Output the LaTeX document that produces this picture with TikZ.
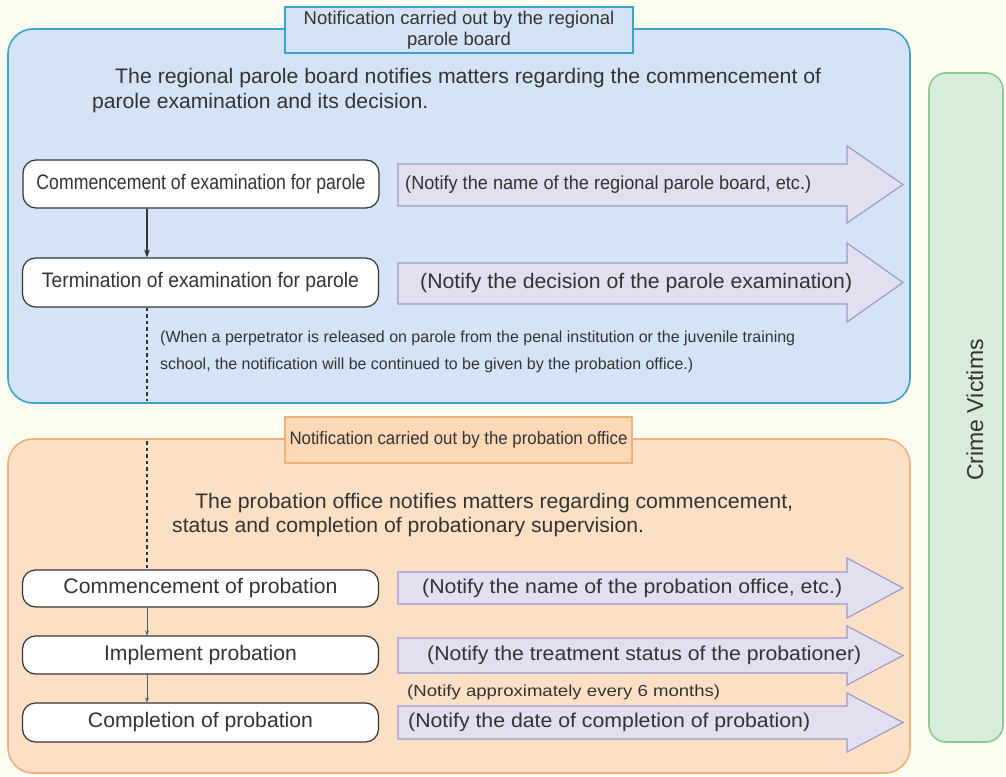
\documentclass[tikz,border=0pt]{standalone}
\usepackage{fontspec}
\setmainfont{Liberation Sans}
\usepackage{graphicx}
\usetikzlibrary{arrows.meta}

\definecolor{paper}{HTML}{FCFDF0}
\definecolor{bluefill}{HTML}{D5E3F6}
\definecolor{blueline}{HTML}{3BA3CC}
\definecolor{orangefill}{HTML}{FCE0C6}
\definecolor{orangeline}{HTML}{F0B07A}
\definecolor{orangetitle}{HTML}{FCD8B6}
\definecolor{greenfill}{HTML}{D8ECDA}
\definecolor{greenline}{HTML}{8DC98F}
\definecolor{noticefill}{HTML}{E2E0F0}
\definecolor{noticeline}{HTML}{9D99C9}
\definecolor{ink}{HTML}{333333}

% squeeze or stretch a line of text to a given width
\newcommand{\fitw}[2]{\resizebox{#1}{\height}{#2}}

\tikzset{
  panel/.style={draw=#1line, fill=#1fill, line width=1.6pt, rounded corners=25pt},
  stagebox/.style={draw=ink, fill=white, line width=1.2pt, rounded corners=13pt,
    minimum width=356pt, inner sep=0pt, text=ink, font=\fontsize{21}{24}\selectfont},
  notice/.style={draw=noticeline, fill=noticefill, line width=1.2pt},
  txt/.style={inner sep=0pt, text=ink},
  intro/.style={txt, anchor=base west, font=\fontsize{21}{25}\selectfont},
  flow/.style={draw=ink, line width=1.2pt, -{Stealth[length=8pt,width=6pt]}},
  minorflow/.style={draw=ink!80, line width=0.9pt, -{Stealth[length=5pt,width=4pt]}},
  handover/.style={draw=ink, line width=1.4pt, dash pattern=on 3.5pt off 3pt},
}

\begin{document}
\begin{tikzpicture}[x=1pt,y=-1pt]
  \useasboundingbox (0,0) rectangle (1006,776);
  \fill[paper] (0,0) rectangle (1006,776);

  % Panels
  \draw[panel=blue] (8,29) rectangle (910,403);
  \draw[panel=orange] (8,439) rectangle (910,773);
  \draw[panel=green, rounded corners=17pt] (929,73) rectangle (1003,742);
  \node[txt, rotate=90, font=\fontsize{23}{26}\selectfont] (victims) at (975,410) {Crime Victims};

  % Titles
  \node[draw=blueline, fill=bluefill, line width=1.8pt, minimum width=348pt, minimum height=46pt,
    inner sep=0pt, align=center, text=ink, font=\fontsize{18.5}{20.5}\selectfont]
    (boardtitle) at (459,30) {Notification carried out by the regional\\parole board};
  \node[draw=orangeline, fill=orangetitle, line width=1.8pt, minimum width=347pt, minimum height=46pt,
    inner sep=0pt, text=ink, font=\fontsize{18}{20}\selectfont]
    (officetitle) at (458.5,440) {\fitw{338pt}{Notification carried out by the probation office}};

  % Intro texts
  \node[intro] (boardtext1) at (115,83)
    {\fitw{706pt}{The regional parole board notifies matters regarding the commencement of}};
  \node[intro] (boardtext2) at (92,108)
    {\fitw{336pt}{parole examination and its decision.}};
  \node[intro] (officetext1) at (195,508)
    {\fitw{598pt}{The probation office notifies matters regarding commencement,}};
  \node[intro] (officetext2) at (172,532)
    {\fitw{472pt}{status and completion of probationary supervision.}};

  % Notification arrows
  \foreach \bt/\bb/\ht/\hb in {164/206/146/223, 263/304/243/322, 572/604/558/618, 638/673/626/685, 706/739/693/752}
    \draw[notice] (398,\bt) -- (847,\bt) -- (847,\ht) -- (903,{(\ht+\hb)/2}) -- (847,\hb) -- (847,\bb) -- (398,\bb) -- cycle;
  \node[txt, anchor=west, font=\fontsize{19}{22}\selectfont] (notice1) at (405,185)
    {\fitw{406pt}{(Notify the name of the regional parole board, etc.)}};
  \node[txt, anchor=west, font=\fontsize{21}{24}\selectfont] (notice2) at (420,283.5)
    {\fitw{432pt}{(Notify the decision of the parole examination)}};
  \node[txt, anchor=west, font=\fontsize{20}{23}\selectfont] (notice3) at (422,588)
    {\fitw{420pt}{(Notify the name of the probation office, etc.)}};
  \node[txt, anchor=west, font=\fontsize{20}{23}\selectfont] (notice4) at (427,655.5)
    {\fitw{434pt}{(Notify the treatment status of the probationer)}};
  \node[txt, anchor=west, font=\fontsize{20}{23}\selectfont] (notice5) at (408,722.5)
    {\fitw{402pt}{(Notify the date of completion of probation)}};

  % Side remarks
  \node[txt, anchor=base west, font=\fontsize{16}{19}\selectfont] (release1) at (160,342)
    {\fitw{635pt}{(When a perpetrator is released on parole from the penal institution or the juvenile training}};
  \node[txt, anchor=base west, font=\fontsize{16}{19}\selectfont] (release2) at (160,369)
    {\fitw{533pt}{school, the notification will be continued to be given by the probation office.)}};
  \node[txt, anchor=base west, font=\fontsize{16}{19}\selectfont] (sixmonths) at (407,696)
    {\fitw{313pt}{(Notify approximately every 6 months)}};

  % Stages
  \node[stagebox, minimum height=48pt] (exam) at (201,184)
    {\fitw{329pt}{Commencement of examination for parole}};
  \node[stagebox, minimum height=49pt] (examend) at (200.5,282.5)
    {\fitw{317pt}{Termination of examination for parole}};
  \node[stagebox, minimum height=37pt] (probstart) at (200.5,588.5)
    {\fitw{274pt}{Commencement of probation}};
  \node[stagebox, minimum height=38pt] (probrun) at (200.5,655)
    {\fitw{193pt}{Implement probation}};
  \node[stagebox, minimum height=39pt] (probend) at (200.5,722.5)
    {\fitw{225pt}{Completion of probation}};

  % Connectors
  \coordinate (spine) at (147,0);
  \coordinate (boardgap) at (147,401);
  \coordinate (officegap) at (147,441);
  \draw[flow] (exam.south -| spine) -- (examend.north -| spine);
  \draw[handover] (examend.south -| spine) -- (boardgap);
  \draw[handover] (officegap) -- (probstart.north -| spine);
  \draw[minorflow] (probstart.south -| spine) -- (probrun.north -| spine);
  \draw[minorflow] (probrun.south -| spine) -- (probend.north -| spine);
\end{tikzpicture}
\end{document}
